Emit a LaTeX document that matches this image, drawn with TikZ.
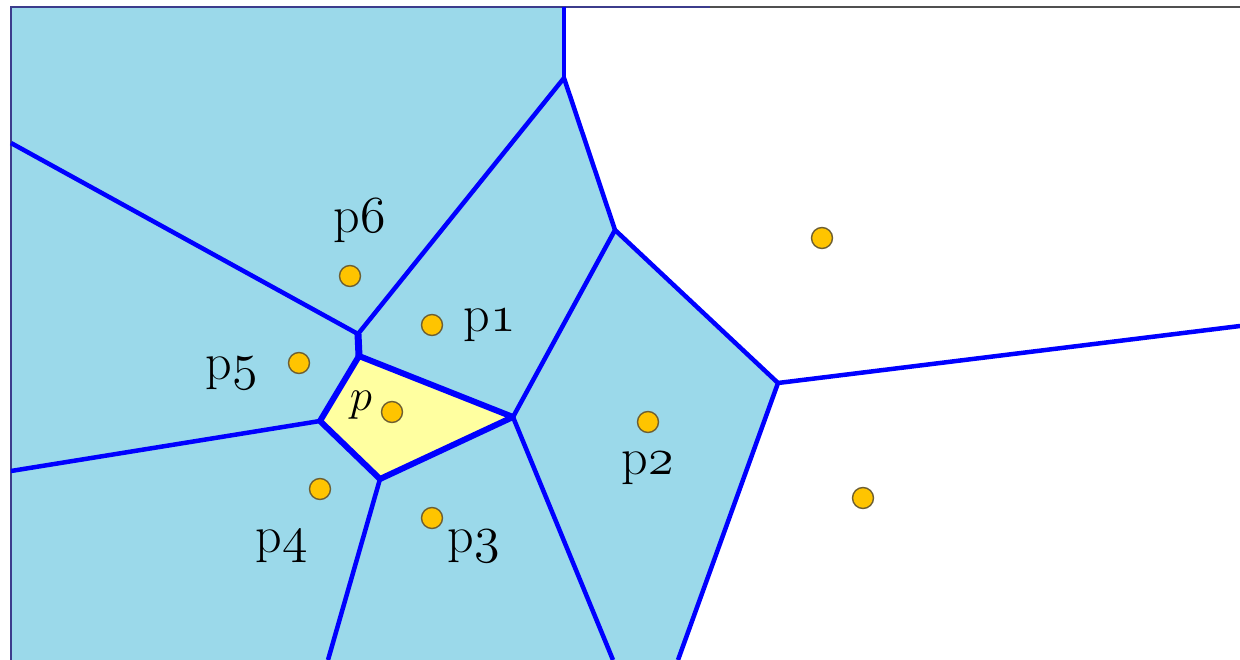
\RequirePackage{fix-cm}
\documentclass[tikz,border=0pt]{standalone}
\definecolor{cellblue}{RGB}{155,217,234}
\definecolor{cellyellow}{RGB}{255,255,160}
\definecolor{siteorange}{RGB}{255,196,0}
\definecolor{siteedge}{RGB}{110,95,50}
\definecolor{framenavy}{RGB}{60,60,140}
\definecolor{framegray}{RGB}{80,80,80}
\definecolor{vblue}{RGB}{0,0,255}
\newcommand\osn[1]{{\usefont{OML}{cmm}{m}{it}#1}}
\newcommand\itp{{\usefont{OML}{cmm}{m}{it}p}}
\tikzset{
  vedge/.style={draw=vblue, line width=4.5pt, line join=round},
  pedge/.style={draw=vblue, line width=6pt, line join=round},
  site/.style={circle, fill=siteorange, draw=siteedge, line width=1.4pt, minimum size=21pt, inner sep=0pt},
  lab/.style={anchor=base, inner sep=0pt, font=\fontsize{52}{60}\selectfont},
  plab/.style={anchor=base, inner sep=0pt, font=\fontsize{45}{54}\selectfont},
}
\begin{document}
\begin{tikzpicture}[x=1pt,y=-1pt]
\useasboundingbox (0,0) rectangle (1240,660);
\fill[white] (0,0) rectangle (1240,660);
% vertices
\coordinate (TL) at (11,7);
\coordinate (T0) at (564,7);
\coordinate (V1) at (564,78);
\coordinate (V2) at (615,230);
\coordinate (V3) at (778,383);
\coordinate (Va) at (358,334);
\coordinate (Vb) at (359,356);
\coordinate (Vc) at (513,417);
\coordinate (Vd) at (380,479);
\coordinate (Ve) at (320,421);
\coordinate (L1) at (11,143);
\coordinate (L2) at (11,471);
\coordinate (B1) at (328,660);
\coordinate (B2) at (613,660);
\coordinate (B3) at (678,660);
\coordinate (BL) at (11,660);
\coordinate (R1) at (1240,326);
% fills
\fill[cellblue] (TL) -- (T0) -- (V1) -- (V2) -- (V3) -- (B3) -- (BL) -- cycle;
\fill[cellyellow] (Vb) -- (Vc) -- (Vd) -- (Ve) -- cycle;
% frame
\draw[framenavy, line width=2pt] (11,660) -- (TL) -- (710,7);
\draw[framegray, line width=2pt] (710,7) -- (1240,7);
% Voronoi edges
\draw[vedge] (T0) -- (V1);
\draw[vedge] (V1) -- (Va);
\draw[vedge] (V1) -- (V2);
\draw[vedge] (V2) -- (V3);
\draw[vedge] (V2) -- (Vc);
\draw[vedge] (V3) -- (R1);
\draw[vedge] (V3) -- (B3);
\draw[vedge] (L1) -- (Va);
\draw[draw=vblue, line width=7pt] (Va) -- (Vb);
\draw[vedge] (Ve) -- (L2);
\draw[vedge] (Vd) -- (B1);
\draw[vedge] (Vc) -- (B2);
\draw[pedge] (Vb) -- (Vc) -- (Vd) -- (Ve) -- cycle;
% sites
\node[site] (s6) at (350,276) {};
\node[site] (s1) at (432,325) {};
\node[site] (s5) at (299,363) {};
\node[site] (s0) at (392,412) {};
\node[site] (s2) at (648,422) {};
\node[site] (s4) at (320,489) {};
\node[site] (s3) at (432,518) {};
\node[site] (s7) at (822,238) {};
\node[site] (s8) at (863,498) {};
% labels
\node[lab] (l6) at (360,233) {p\osn{6}};
\node[lab] (l1) at (490,332) {p\osn{1}};
\node[lab] (l5) at (232,379) {p\osn{5}};
\node[lab] (l2) at (648,474) {p\osn{2}};
\node[lab] (l4) at (282,552) {p\osn{4}};
\node[lab] (l3) at (474,552) {p\osn{3}};
\node[plab] (l0) at (361,410) {\itp};
\end{tikzpicture}
\end{document}
